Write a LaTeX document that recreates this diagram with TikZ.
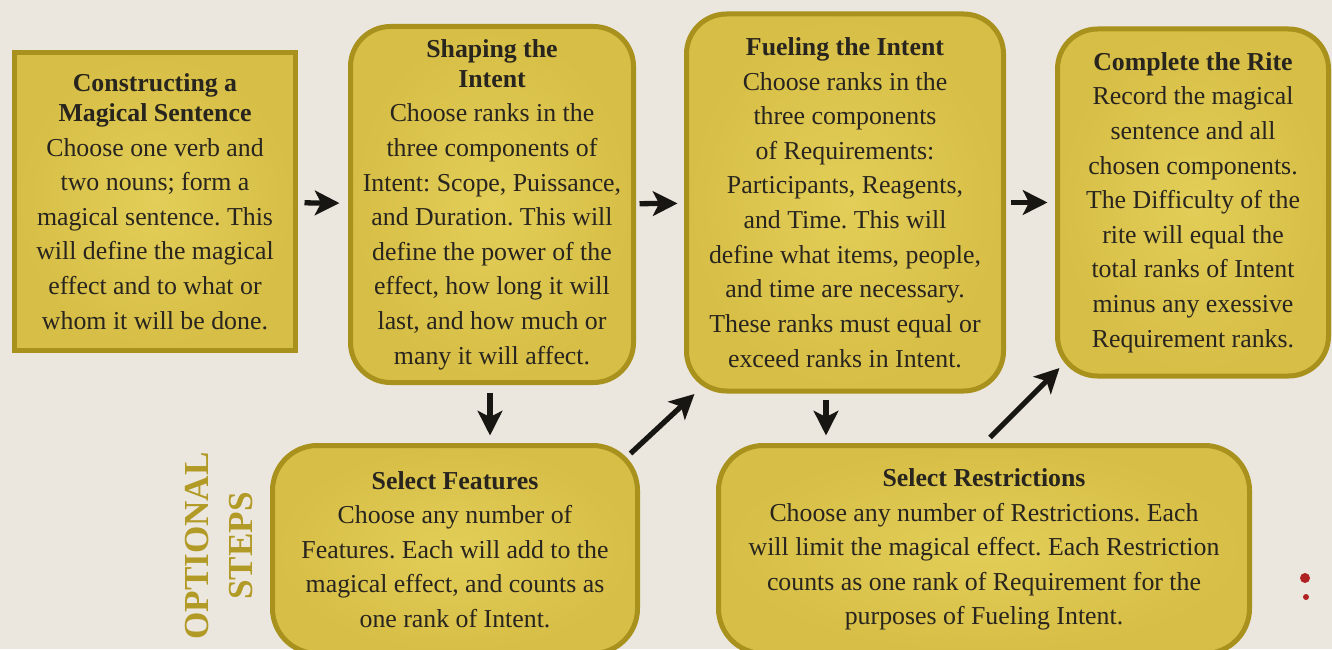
\documentclass[tikz,border=0pt]{standalone}
\usepackage{fontspec}
\setmainfont{Liberation Serif}
\usepackage{xcolor}
\usepackage{tikz}
\usetikzlibrary{arrows.meta, positioning, calc}
\frenchspacing

\definecolor{paper}{RGB}{236,231,222}
\definecolor{boxfill}{RGB}{215,190,70}
\definecolor{boxglow}{RGB}{226,206,88}
\definecolor{boxline}{RGB}{168,145,28}
\definecolor{ink}{RGB}{40,36,30}
\definecolor{optgold}{RGB}{178,154,38}
\definecolor{dotred}{RGB}{176,34,34}

\begin{document}
\begin{tikzpicture}[
    stepsq/.style={draw=boxline, line width=0.1cm, shade, shading=radial,
                   inner color=boxglow, outer color=boxfill, align=center,
                   text=ink, font=\fontsize{14.7}{19.7}\selectfont},
    steprd/.style={stepsq, rounded corners=0.8cm},
    optbox/.style={stepsq, rounded corners=0.9cm},
    arr/.style={-{Stealth[length=14pt, width=14pt, inset=3.5pt]}, line width=3pt, draw=ink!60!black}
]
% page
\fill[paper] (0,0) rectangle (26.64,12.98);
\clip (0,0) rectangle (26.64,12.98);

% main steps
\node[stepsq, minimum width=5.62cm, minimum height=5.96cm] (b1) at (3.10, 8.95)
  {\textbf{Constructing a}\\[-2.6pt]\textbf{Magical Sentence}\\
   Choose one verb and\\ two nouns; form a\\ magical sentence. This\\
   will define the magical\\ effect and to what or\\ whom it will be done.};
\node[steprd, minimum width=5.66cm, minimum height=7.12cm] (b2) at (9.84, 8.89)
  {\textbf{Shaping the}\\[-2.6pt]\textbf{Intent}\\
   Choose ranks in the\\ three components of\\ Intent: Scope, Puissance,\\
   and Duration. This will\\ define the power of the\\ effect, how long it will\\
   last, and how much or\\ many it will affect.};
\node[steprd, minimum width=6.34cm, minimum height=7.54cm] (b3) at (16.90, 8.93)
  {\textbf{Fueling the Intent}\\
   Choose ranks in the\\ three components\\ of Requirements:\\
   Participants, Reagents,\\ and Time. This will\\ define what items, people,\\
   and time are necessary.\\ These ranks must equal or\\ exceed ranks in Intent.};
\node[steprd, minimum width=5.42cm, minimum height=6.94cm] (b4) at (23.86, 8.93)
  {\textbf{Complete the Rite}\\
   Record the magical\\ sentence and all\\ chosen components.\\
   The Difficulty of the\\ rite will equal the\\ total ranks of Intent\\
   minus any exessive\\ Requirement ranks.};

% optional steps
\node[optbox, minimum width=7.30cm, minimum height=4.16cm] (b5) at (9.10, 1.99)
  {\textbf{Select Features}\\
   Choose any number of\\ Features. Each will add to the\\
   magical effect, and counts as\\ one rank of Intent.};
\node[optbox, minimum width=10.62cm, minimum height=4.16cm] (b6) at (19.68, 1.99)
  {\textbf{Select Restrictions}\\
   Choose any number of Restrictions. Each\\ will limit the magical effect. Each Restriction\\
   counts as one rank of Requirement for the\\ purposes of Fueling Intent.};
\node[rotate=90, align=center, text=optgold, font=\fontsize{20}{25.5}\selectfont\bfseries]
  (opt) at (4.38, 2.06) {OPTIONAL\\STEPS};

% page marks
\fill[dotred] (26.10, 1.42) circle (0.1);
\fill[dotred] (26.12, 1.04) circle (0.06);

\draw[arr, shorten <=0.13cm, shorten >=0.17cm] (b1) -- (b2);
\draw[arr, shorten <=0.07cm, shorten >=0.13cm] (b2) -- (b3);
\draw[arr, shorten <=0.09cm, shorten >=0.15cm] (b3) -- (b4);
\draw[arr, shorten <=0.15cm, shorten >=0.15cm] ([xshift=-0.04cm]b2.south) -- ([xshift=-0.04cm]b2.south |- b5.north);
\draw[arr, shorten <=0.13cm, shorten >=0.15cm] ([xshift=-0.38cm]b3.south) -- ([xshift=-0.38cm]b3.south |- b6.north);
\draw[arr] ($(b5.north east)+(-0.19,-0.21)$) -- ($(b3.south west)+(0.21,-0.01)$);
\draw[arr] ($(b6.north)+(0.12,0.11)$) -- ($(b4.south west)+(0.09,0.21)$);
\end{tikzpicture}
\end{document}
